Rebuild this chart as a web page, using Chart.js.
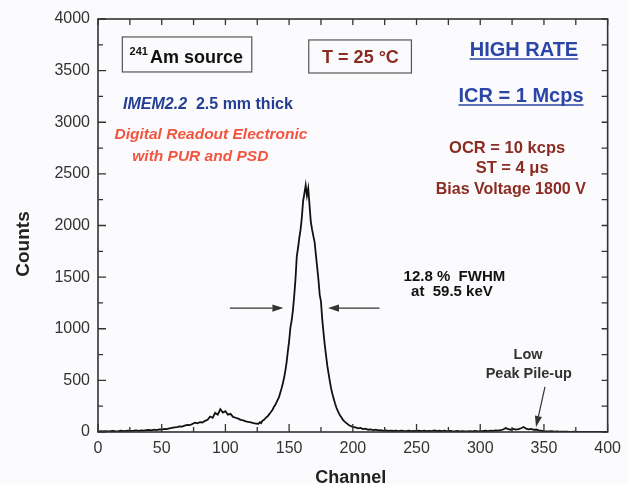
<!DOCTYPE html>
<html><head><meta charset="utf-8">
<script src="https://cdn.jsdelivr.net/npm/chart.js@4.4.1/dist/chart.umd.min.js"></script>
<style>html,body{margin:0;padding:0;background:#fbfbfd;} #wrap{width:628px;height:484px;}</style>
</head><body><div id="wrap"><canvas id="c" width="628" height="484"></canvas></div>
<script>
// ---- data ----
const channels = [
 0,2,4,6,8,10,12,14,16,18,20,22,24,26,28,30,32,34,36,38,40,42,44,46,48,50,
 52,54,56,58,60,62,64,66,68,70,72,74,76,78,80,82,84,86,88,90,92,94,96,98,100,102,104,106,108,110,112,114,116,118,120,122,124,
 126,127,128,129,130,131,132,133,134,135,136,137,138,139,140,141,142,143,144,145,146,147,148,149,150,
 151,152,153,154,155,156,157,158,159,160,161,162,163,164,165,166,167,168,169,170,171,172,173,174,175,
 176,177,178,179,180,181,182,183,184,185,186,187,188,189,190,191,192,193,194,195,196,197,198,199,200,
 202,204,206,208,210,212,214,216,218,220,222,224,226,228,230,232,234,236,238,240,242,244,246,248,250,
 252,254,256,258,260,262,264,266,268,270,272,274,276,278,280,282,284,286,288,290,292,294,296,298,300,
 302,304,306,308,310,312,314,316,318,320,322,324,326,328,330,332,334,336,338,340,342,344,346,348,350,
 352,354,356,358,360,362,364,366,368,370,372,374,376,378,380,382,384,386,388,390,392,394,396,398,400
];
const counts = [
 4,7,5,9,6,8,10,7,9,12,8,11,13,10,12,15,11,16,14,18,20,16,22,19,26,24,
 30,28,36,40,44,48,54,52,62,68,66,78,90,84,96,92,108,118,150,138,185,168,220,188,202,168,176,146,138,130,118,112,104,98,94,86,82,
 80,94,86,108,116,128,142,150,166,182,198,214,242,258,284,312,336,378,420,468,522,590,672,780,880,
 1010,1082,1180,1320,1480,1700,1782,1880,1962,2080,2240,2310,2390,2290,2360,2200,2040,1962,1900,1840,1718,1600,1478,1330,1262,
 1090,962,842,740,640,562,488,420,368,322,278,240,210,182,160,142,122,108,96,86,76,66,60,54,50,
 44,36,40,28,32,22,26,18,22,15,18,12,16,11,14,10,13,9,14,10,8,12,9,11,8,
 12,9,14,8,11,9,15,8,12,9,13,7,10,8,7,10,6,9,7,6,9,7,10,6,9,
 8,12,9,14,11,16,13,18,24,38,28,22,30,24,28,36,48,32,26,30,20,24,16,12,9,
 7,5,7,4,5,3,4,3,3,2,2,3,2,2,2,1,2,1,1,1,1,1,1,1,1
];
const xTickLabels = [0,50,100,150,200,250,300,350,400];
const yTickLabels = [0,500,1000,1500,2000,2500,3000,3500,4000];
const xTitle = 'Channel';
const yTitle = 'Counts';

const FAM = '"Liberation Sans", Arial, sans-serif';
const points = channels.map((c,i)=>({x:c, y:counts[i]}));

const decor = {
  id:'decor',
  afterDraw(chart){
    const {ctx, chartArea:a, scales:{x, y}} = chart;
    const X = v => x.getPixelForValue(v), Y = v => y.getPixelForValue(v);
    ctx.save();
    // frame
    ctx.strokeStyle = '#333'; ctx.lineWidth = 1.6;
    ctx.strokeRect(a.left, a.top, a.right - a.left, a.bottom - a.top);
    // inward ticks
    ctx.lineWidth = 1.3;
    ctx.beginPath();
    for (let v = 0; v <= 400; v += 25) {
      const px = X(v), len = (v % 50 === 0) ? 8 : 5;
      ctx.moveTo(px, a.bottom); ctx.lineTo(px, a.bottom - len);
      ctx.moveTo(px, a.top); ctx.lineTo(px, a.top + 6);
    }
    for (let v = 0; v <= 4000; v += 250) {
      const py = Y(v), len = (v % 500 === 0) ? 8 : 5;
      ctx.moveTo(a.left, py); ctx.lineTo(a.left + len, py);
      ctx.moveTo(a.right, py); ctx.lineTo(a.right - 6, py);
    }
    ctx.stroke();

    // axis titles
    ctx.fillStyle = '#222';
    ctx.font = 'bold 18px ' + FAM; ctx.textAlign = 'center'; ctx.textBaseline = 'alphabetic';
    ctx.fillText(xTitle, (a.left + a.right) / 2 - 2, 483);
    ctx.save(); ctx.translate(29, 244); ctx.rotate(-Math.PI / 2);
    ctx.font = 'bold 19px ' + FAM; ctx.fillText(yTitle, 0, 0); ctx.restore();

    const T = (s, ch, c, font, color, align) => {
      ctx.font = font; ctx.fillStyle = color; ctx.textAlign = align || 'center'; ctx.textBaseline = 'alphabetic';
      ctx.fillText(s, X(ch), Y(c)); return ctx.measureText(s).width;
    };
    const box = (c1, c2, v1, v2) => {
      ctx.strokeStyle = '#555'; ctx.lineWidth = 1.2;
      ctx.strokeRect(X(c1), Y(v1), X(c2) - X(c1), Y(v2) - Y(v1));
    };
    const underline = (s, ch, c, font, color) => {
      ctx.font = font; const w = ctx.measureText(s).width;
      ctx.strokeStyle = color; ctx.lineWidth = 1.6; ctx.beginPath();
      ctx.moveTo(X(ch) - w / 2, Y(c) + 3); ctx.lineTo(X(ch) + w / 2, Y(c) + 3); ctx.stroke();
    };
    const arrow = (c1, v1, c2, v2) => {
      const x1 = X(c1), y1 = Y(v1), x2 = X(c2), y2 = Y(v2);
      ctx.strokeStyle = '#333'; ctx.fillStyle = '#333'; ctx.lineWidth = 1.2;
      const ang = Math.atan2(y2 - y1, x2 - x1), hl = 11, hw = 3.6;
      const bx = x2 - hl * Math.cos(ang), by = y2 - hl * Math.sin(ang);
      ctx.beginPath(); ctx.moveTo(x1, y1); ctx.lineTo(bx, by); ctx.stroke();
      ctx.beginPath(); ctx.moveTo(x2, y2);
      ctx.lineTo(bx + hw * Math.sin(ang), by - hw * Math.cos(ang));
      ctx.lineTo(bx - hw * Math.sin(ang), by + hw * Math.cos(ang));
      ctx.closePath(); ctx.fill();
    };

    const DARKRED = '#8a2c22', BLUE = '#2b46a6', NAVY = '#243e93', RED = '#f2553f';

    // 241Am source box
    box(19.1, 120.7, 3826, 3487);
    ctx.font = 'bold 11px ' + FAM; const wSup = ctx.measureText('241').width;
    ctx.font = 'bold 18px ' + FAM; const wMain = ctx.measureText('Am source').width;
    const startX = X(69.3) - (wSup + 2 + wMain) / 2;
    ctx.fillStyle = '#111'; ctx.textAlign = 'left';
    ctx.font = 'bold 11px ' + FAM; ctx.fillText('241', startX, Y(3574) - 8);
    ctx.font = 'bold 18px ' + FAM; ctx.fillText('Am source', startX + wSup + 2, Y(3574));

    // T box
    box(165.4, 246, 3797, 3477);
    T('T = 25 \u00B0C', 206.0, 3574, 'bold 18px ' + FAM, DARKRED);

    // high rate
    T('HIGH RATE', 334.3, 3642, 'bold 20px ' + FAM, BLUE);
    underline('HIGH RATE', 334.3, 3642, 'bold 20px ' + FAM, BLUE);
    T('ICR = 1 Mcps', 332.0, 3196, 'bold 20px ' + FAM, BLUE);
    underline('ICR = 1 Mcps', 332.0, 3196, 'bold 20px ' + FAM, BLUE);

    // IMEM line
    ctx.font = 'italic bold 16px ' + FAM; const w1 = ctx.measureText('IMEM2.2').width;
    ctx.font = 'bold 16px ' + FAM; const w2 = ctx.measureText('  2.5 mm thick').width;
    const sx = X(86.3) - (w1 + w2) / 2;
    ctx.fillStyle = NAVY; ctx.textAlign = 'left';
    ctx.font = 'italic bold 16px ' + FAM; ctx.fillText('IMEM2.2', sx, Y(3128));
    ctx.font = 'bold 16px ' + FAM; ctx.fillText('  2.5 mm thick', sx + w1, Y(3128));

    T('Digital Readout Electronic', 88.7, 2838, 'italic bold 15.5px ' + FAM, RED);
    T('with PUR and PSD', 80.3, 2625, 'italic bold 15.5px ' + FAM, RED);

    T('OCR = 10 kcps', 321.1, 2702, 'bold 16.5px ' + FAM, DARKRED);
    T('ST = 4 \u03BCs', 325.0, 2508, 'bold 16.5px ' + FAM, DARKRED);
    T('Bias Voltage 1800 V', 324.0, 2305, 'bold 16px ' + FAM, DARKRED);

    T('12.8 %  FWHM', 239.8, 1467, 'bold 15px ' + FAM, '#111', 'left');
    T('at  59.5 keV', 245.7, 1317, 'bold 15px ' + FAM, '#111', 'left');

    T('Low', 337.5, 707, 'bold 14.5px ' + FAM, '#333');
    T('Peak Pile-up', 338.1, 523, 'bold 14.5px ' + FAM, '#333');

    // arrows
    arrow(103.5, 1200, 145.5, 1200);
    arrow(221, 1200, 180.5, 1200);
    arrow(350.8, 436, 343.8, 48);
    ctx.restore();
  }
};

new Chart(document.getElementById('c'), {
  type: 'line',
  data: { datasets: [{ data: points, borderColor: '#111', borderWidth: 1.8, pointRadius: 0, tension: 0, fill: false }] },
  options: {
    responsive: false, animation: false, devicePixelRatio: 1,
    layout: { padding: { top: 19, right: 19, left: 0, bottom: 0 } },
    plugins: { legend: { display: false }, tooltip: { enabled: false } },
    scales: {
      x: {
        type: 'linear', min: 0, max: 400,
        grid: { display: false, drawTicks: false }, border: { display: false },
        ticks: { stepSize: 50, color: '#333', font: { family: FAM, size: 16 }, padding: 7, maxRotation: 0,
                 callback: v => xTickLabels.includes(v) ? String(v) : '' },
        afterFit: s => { s.height = 52; }
      },
      y: {
        min: 0, max: 4000,
        grid: { display: false, drawTicks: false }, border: { display: false },
        ticks: { stepSize: 500, color: '#333', font: { family: FAM, size: 16 }, padding: 8,
                 callback: v => yTickLabels.includes(v) ? String(v) : '' },
        afterFit: s => { s.width = 98; }
      }
    }
  },
  plugins: [decor]
});
</script>
</body></html>
